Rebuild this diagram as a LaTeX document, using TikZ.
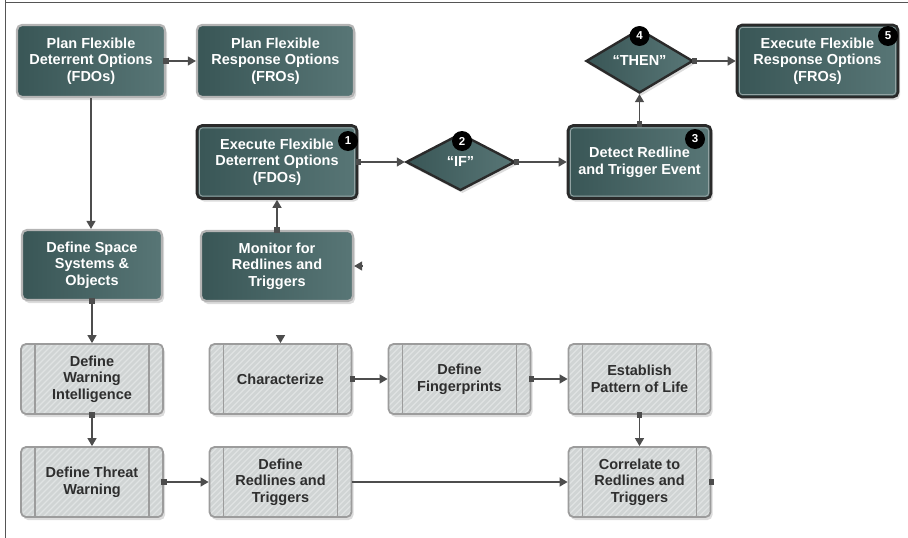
\documentclass[tikz,border=0pt]{standalone}
\usepackage{fontspec}
\setmainfont{Liberation Sans}
\usetikzlibrary{arrows.meta,shapes.geometric,shadows,calc}
\definecolor{dkA}{HTML}{395656}
\definecolor{dkB}{HTML}{587676}
\definecolor{gfill}{HTML}{D0D4D4}
\definecolor{gstripe}{HTML}{E0E3E3}
\definecolor{gbord}{HTML}{9C9C9C}
\definecolor{connc}{HTML}{4D4D4D}
\definecolor{gtext}{HTML}{2E2E2E}
\definecolor{lrim}{HTML}{B4B4B4}
\definecolor{drim}{HTML}{2A2A2A}
\definecolor{framec}{HTML}{555555}
\begin{document}
\begin{tikzpicture}[x=1pt,y=1pt,
  lbl/.style={font=\fontsize{14.5}{16.7}\selectfont\bfseries, align=center},
  shad/.style={drop shadow={opacity=0.28,shadow xshift=2pt,shadow yshift=-3pt}},
  darkbox/.style={lbl, text=white, rectangle, rounded corners=5pt, left color=dkA, right color=dkB, line width=2.2pt, inner sep=0pt, shad},
  lightrim/.style={draw=lrim},
  darkrim/.style={draw=drim, line width=2.6pt,
    path picture={\draw[white!45!dkA, line width=0.9pt, rounded corners=3pt] ($(path picture bounding box.south west)+(2.4,2.4)$) rectangle ($(path picture bounding box.north east)+(-2.4,-2.4)$);}},
  diam/.style={lbl, text=white, diamond, left color=dkA, right color=dkB, draw=drim, line width=2.4pt, inner sep=0pt, minimum width=108pt, minimum height=58pt, shad},
  graybox/.style={lbl, text=gtext, rectangle, rounded corners=5pt, fill=gfill, draw=gbord, line width=1.8pt, minimum width=142pt, minimum height=70pt, inner sep=0pt, shad,
    path picture={
      \foreach \k in {-80,-74,...,160} {\draw[gstripe, line width=1.2pt] ($(path picture bounding box.south west)+(\k,0)$) -- ++(80,80);}
      \draw[gbord, line width=1.8pt] ($(path picture bounding box.south west)+(14,0)$) -- ($(path picture bounding box.north west)+(14,0)$);
      \draw[gbord, line width=1.8pt] ($(path picture bounding box.south east)+(-14,0)$) -- ($(path picture bounding box.north east)+(-14,0)$);
    }},
  badge/.style={circle, fill=black, text=white, font=\fontsize{11.5}{11.5}\selectfont\bfseries, minimum size=20pt, inner sep=0pt},
  conn/.style={draw=connc, line width=1.3pt, arrows={-Triangle[length=8pt,width=9pt]}},
  sqconn/.style={draw=connc, line width=1.3pt, arrows={Square[length=5.5pt,width=5.5pt]-Triangle[length=8pt,width=9pt]}, shorten <=-2.7pt},
  frame/.style={draw=framec, line width=1pt}
]
\useasboundingbox (0,0) rectangle (908,-538);
\draw[frame] (5,0) -- (5,-538);
\draw[frame] (5,-2.5) -- (908,-2.5);

% row 1
\node[darkbox, lightrim, minimum width=148pt, minimum height=72pt] (pfdo) at (91,-61) {Plan Flexible\\Deterrent Options\\(FDOs)};
\node[darkbox, lightrim, minimum width=157pt, minimum height=72pt] (pfro) at (275.5,-61) {Plan Flexible\\Response Options\\(FROs)};
\node[diam, minimum width=107pt, minimum height=57pt] (then) at (639.5,-61) {“THEN”};
\node[darkbox, darkrim, minimum width=161pt, minimum height=72pt] (efro) at (817.5,-61) {Execute Flexible\\Response Options\\(FROs)};

% row 2
\node[darkbox, darkrim, minimum width=160pt, minimum height=73pt] (efdo) at (277,-162) {Execute Flexible\\Deterrent Options\\(FDOs)};
\node[diam, minimum width=109pt, minimum height=57pt] (if) at (460.5,-162) {“IF”};
\node[darkbox, darkrim, minimum width=143pt, minimum height=73pt] (det) at (639.5,-162) {Detect Redline\\and Trigger Event};

% row 3
\node[darkbox, lightrim, minimum width=140pt, minimum height=70pt] (dss) at (92,-265) {Define Space\\Systems \&\\Objects};
\node[darkbox, lightrim, minimum width=152pt, minimum height=70pt] (mon) at (277,-266) {Monitor for\\Redlines and\\Triggers};

% row 4
\node[graybox] (dwi) at (92,-379) {Define\\Warning\\Intelligence};
\node[graybox] (char) at (280.5,-379) {Characterize};
\node[graybox] (dfp) at (459.5,-379) {Define\\Fingerprints};
\node[graybox] (epl) at (639.5,-379) {Establish\\Pattern of Life};

% row 5
\node[graybox] (dtw) at (92,-482) {Define Threat\\Warning};
\node[graybox] (drt) at (280.5,-482) {Define\\Redlines and\\Triggers};
\node[graybox] (cor) at (639.5,-482) {Correlate to\\Redlines and\\Triggers};

% badges
\node[badge] (b1) at (348,-141) {1};
\node[badge] (b2) at (462,-141) {2};
\node[badge] (b3) at (695,-139) {3};
\node[badge] (b4) at (639.5,-36) {4};
\node[badge] (b5) at (888,-36) {5};

% connectors
\draw[conn] (pfdo.south) -- (pfdo.south |- dss.north);
\draw[sqconn] (pfdo.east) -- (pfro.west);
\draw[sqconn] (efdo.east) -- (if.west);
\draw[sqconn] (if.east) -- (det.west);
\draw[sqconn] (det.north) -- (then.south);
\draw[sqconn] (then.east) -- (efro.west);
\draw[sqconn] (mon.north) -- (mon.north |- efdo.south);
\draw[sqconn] (dss.south) -- (dwi.north);
\draw[sqconn] (dwi.south) -- (dtw.north);
\draw[sqconn] (dtw.east) -- (drt.west);
\draw[conn] (drt.east) -- (cor.west);
\draw[sqconn] (char.east) -- (dfp.west);
\draw[sqconn] (dfp.east) -- (epl.west);
\draw[sqconn] (epl.south) -- (cor.north);

% dangling ends
\coordinate (monin) at ($(mon.east)+(8,0)$);
\draw[conn] (monin) -- (mon.east);
\coordinate (chin) at ($(char.north)+(0,8)$);
\draw[conn] (chin) -- (char.north);
\fill[connc] ($(cor.east)+(-2.7,-3)$) rectangle ++(5.5,6);
\end{tikzpicture}
\end{document}
